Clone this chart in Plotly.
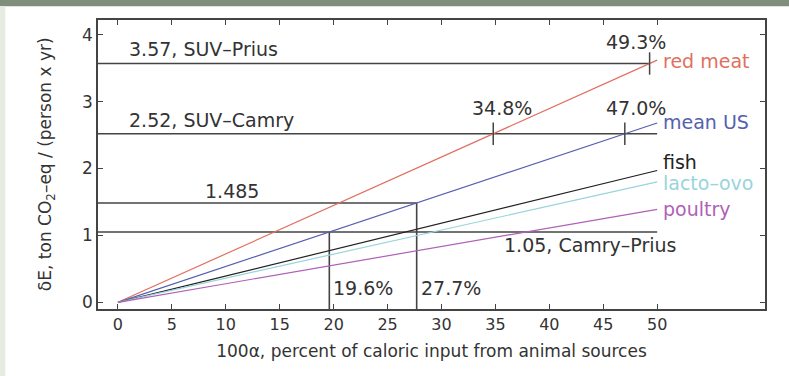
import plotly.graph_objects as go

# ---- data ----
diet_names = ["red meat", "mean US", "fish", "lacto\u2013ovo", "poultry"]
diet_colors = ["#e07060", "#5560b0", "#222222", "#98d4dc", "#b060b8"]
alpha_ends = [0, 50]
diet_end_values = [3.62, 2.68, 1.97, 1.80, 1.39]   # dE at alpha = 50

ref_levels = [3.57, 2.52, 1.485, 1.05]
ref_end_x = [49.3, 50, 27.7, 50]
ref_labels = ["3.57, SUV\u2013Prius", "2.52, SUV\u2013Camry", "1.485", "1.05, Camry\u2013Prius"]

vert_x = [19.6, 27.7]
vert_top = [1.05, 1.485]
vert_labels = ["19.6%", "27.7%"]

cross_x = [49.3, 34.8, 47.0]
cross_y = [3.57, 2.52, 2.52]
cross_labels = ["49.3%", "34.8%", "47.0%"]

x_ticks = [0, 5, 10, 15, 20, 25, 30, 35, 40, 45, 50]
y_ticks = [0, 1, 2, 3, 4]
x_range = [-1.85, 60]
y_range = [-0.1, 4.22]

txt = "#333333"
font_family = "DejaVu Sans, Liberation Sans, Arial, sans-serif"
LBL = 19

fig = go.Figure()

# reference horizontal lines
for lvl, xe in zip(ref_levels, ref_end_x):
    fig.add_trace(go.Scatter(x=[x_range[0], xe], y=[lvl, lvl], mode="lines",
                             line=dict(color="#444444", width=1.6), showlegend=False, hoverinfo="skip"))
# vertical lines
for vx, vt in zip(vert_x, vert_top):
    fig.add_trace(go.Scatter(x=[vx, vx], y=[y_range[0], vt], mode="lines",
                             line=dict(color="#444444", width=1.6), showlegend=False, hoverinfo="skip"))

# diet lines
for name, col, ev in zip(diet_names, diet_colors, diet_end_values):
    fig.add_trace(go.Scatter(x=alpha_ends, y=[0, ev], mode="lines",
                             line=dict(color=col, width=1.2), name=name, showlegend=False))

# crossing ticks
fig.add_trace(go.Scatter(x=cross_x, y=cross_y, mode="markers",
                         marker=dict(symbol="line-ns", size=16, line=dict(color="#444444", width=1.5)),
                         showlegend=False, hoverinfo="skip"))

ann = []
# diet labels at the right end
label_ys = [3.61, 2.69, 2.09, 1.79, 1.40]
for name, col, ly in zip(diet_names, diet_colors, label_ys):
    ann.append(dict(x=50.4, y=ly, text=name, showarrow=False, xanchor="left", yanchor="middle",
                    font=dict(color=col, size=LBL, family=font_family)))

# reference labels
ref_pos = [(0.85, 3.79, "left"), (0.85, 2.73, "left"), (10.6, 1.67, "center"), (43.8, 0.85, "center")]
for (lx, ly, xa), t in zip(ref_pos, ref_labels):
    ann.append(dict(x=lx, y=ly, text=t, showarrow=False, xanchor=xa, yanchor="middle",
                    font=dict(color=txt, size=LBL, family=font_family)))

# vertical line labels
for vx, t in zip(vert_x, vert_labels):
    ann.append(dict(x=vx + 0.2, y=0.22, text=t, showarrow=False, xanchor="left", yanchor="middle",
                    font=dict(color=txt, size=LBL, family=font_family)))

# crossing labels
cross_lbl_pos = [(48.05, 3.89), (35.6, 2.91), (48.05, 2.91)]
for (lx, ly), t in zip(cross_lbl_pos, cross_labels):
    ann.append(dict(x=lx, y=ly, text=t, showarrow=False, xanchor="center", yanchor="middle",
                    font=dict(color=txt, size=LBL, family=font_family)))

# y-axis title
ann.append(dict(x=-0.077, y=0.5, xref="paper", yref="paper", textangle=-90,
                text="\u03b4E, ton CO<sub>2</sub>\u2013eq / (person x yr)", showarrow=False,
                xanchor="center", yanchor="middle", font=dict(color=txt, size=17, family=font_family)))

shapes = [
    dict(type="rect", xref="paper", yref="paper", x0=-0.15, x1=1.04, y0=1.048, y1=1.075,
         fillcolor="#7f8f7c", line=dict(width=0), layer="below"),
    dict(type="rect", xref="paper", yref="paper", x0=-0.15, x1=-0.139, y0=-0.25, y1=1.048,
         fillcolor="#e6ece2", line=dict(width=0), layer="below"),
]

fig.update_layout(
    width=789, height=376,
    margin=dict(l=98, r=24, t=20, b=67),
    paper_bgcolor="white", plot_bgcolor="white",
    font=dict(family=font_family, color=txt, size=16),
    annotations=ann, shapes=shapes,
    xaxis=dict(range=x_range, tickvals=x_ticks, ticks="inside", ticklen=5, tickcolor="#444444",
               showline=True, linecolor="#444444", linewidth=1.6, mirror="ticks", showgrid=False,
               zeroline=False, tickfont=dict(size=16, color=txt),
               title=dict(text="100\u03b1, percent of caloric input from animal sources",
                          font=dict(size=17, color=txt), standoff=12)),
    yaxis=dict(range=y_range, tickvals=y_ticks, ticks="inside", ticklen=5, tickcolor="#444444",
               showline=True, linecolor="#444444", linewidth=1.6, mirror="ticks", showgrid=False,
               zeroline=False, tickfont=dict(size=17, color=txt)),
)

fig.write_html("out.html", config={"displayModeBar": False},
               post_script="document.body.style.margin='0';")
